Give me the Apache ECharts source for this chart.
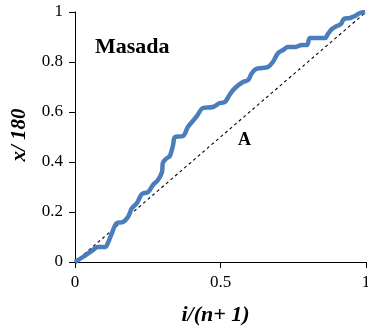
<!DOCTYPE html>
<html>
<head>
<meta charset="utf-8">
<script src="https://cdn.jsdelivr.net/npm/echarts@6/dist/echarts.min.js"></script>
<style>html,body{margin:0;padding:0;background:#fff;}#c{width:368px;height:328px;}</style>
</head>
<body>
<div id="c"></div>
<script>
var obsX = [0,0.027,0.062,0.079,0.103,0.113,0.127,0.144,0.165,0.182,0.196,0.213,0.230,0.251,0.268,0.285,0.299,0.302,0.316,0.326,0.337,0.344,0.371,0.388,0.405,0.419,0.440,0.474,0.498,0.515,0.533,0.550,0.577,0.595,0.608,0.622,0.643,0.663,0.680,0.698,0.715,0.732,0.756,0.780,0.797,0.808,0.859,0.869,0.883,0.900,0.914,0.924,0.945,0.962,0.979,0.997];
var obsY = [0,0.02,0.048,0.06,0.06,0.076,0.116,0.156,0.16,0.18,0.216,0.236,0.272,0.28,0.308,0.328,0.36,0.396,0.416,0.424,0.468,0.50,0.504,0.54,0.564,0.584,0.616,0.62,0.636,0.64,0.672,0.696,0.72,0.728,0.756,0.772,0.776,0.78,0.80,0.836,0.848,0.86,0.86,0.868,0.868,0.896,0.896,0.912,0.932,0.944,0.952,0.972,0.976,0.984,0.996,1.0];
var refX = [0, 1];
var refY = [0, 1];
var xTicks = [0, 0.5, 1];
var yTicks = [0, 0.2, 0.4, 0.6, 0.8, 1];
var xTitle = 'i/(n+ 1)';
var yTitle = 'x/ 180';
var siteLabel = 'Masada';
var lineLabel = 'A';

var serif = 'Liberation Serif';
var chart = echarts.init(document.getElementById('c'), null, {renderer: 'canvas'});
chart.setOption({
  animation: false,
  grid: {left: 75, right: 2, top: 12, bottom: 66, containLabel: false, outerBoundsMode: 'none'},
  xAxis: {
    type: 'value', min: xTicks[0], max: xTicks[xTicks.length-1], interval: 0.5,
    axisLine: {lineStyle: {color: '#000', width: 1}},
    axisTick: {show: true, length: 6, inside: false, lineStyle: {color: '#000'}},
    axisLabel: {color: '#000', fontFamily: serif, fontSize: 17, margin: 12},
    splitLine: {show: false},
    name: xTitle, nameLocation: 'middle', nameGap: 42,
    nameTextStyle: {color: '#000', fontFamily: serif, fontSize: 22, fontWeight: 'bold', fontStyle: 'italic', padding: [0, 10, 0, 0]}
  },
  yAxis: {
    type: 'value', min: yTicks[0], max: yTicks[yTicks.length-1], interval: 0.2,
    axisLine: {show: true, lineStyle: {color: '#000', width: 1}},
    axisTick: {show: true, length: 6, inside: false, lineStyle: {color: '#000'}},
    axisLabel: {color: '#000', fontFamily: serif, fontSize: 17, margin: 12},
    splitLine: {show: false},
    name: yTitle, nameLocation: 'middle', nameGap: 45, nameRotate: 90,
    nameTextStyle: {color: '#000', fontFamily: serif, fontSize: 21, fontWeight: 'bold', fontStyle: 'italic', padding: [0, 0, 0, 4]}
  },
  series: [
    {
      type: 'line', data: refX.map(function(x, i){ return [x, refY[i]]; }),
      symbol: 'none', silent: true,
      lineStyle: {color: '#000', width: 1.1, type: [3, 3]}
    },
    {
      type: 'line', data: obsX.map(function(x, i){ return [x, obsY[i]]; }),
      symbol: 'none', smooth: 0.35, silent: true,
      lineStyle: {color: '#4A7EBB', width: 4.5}
    }
  ],
  graphic: [
    {type: 'text', left: 95, top: 36, style: {text: siteLabel, font: 'bold 22px "Liberation Serif"', fill: '#000'}},
    {type: 'text', left: 238, top: 131, style: {text: lineLabel, font: 'bold 18px "Liberation Serif"', fill: '#000'}}
  ]
});
</script>
</body>
</html>
